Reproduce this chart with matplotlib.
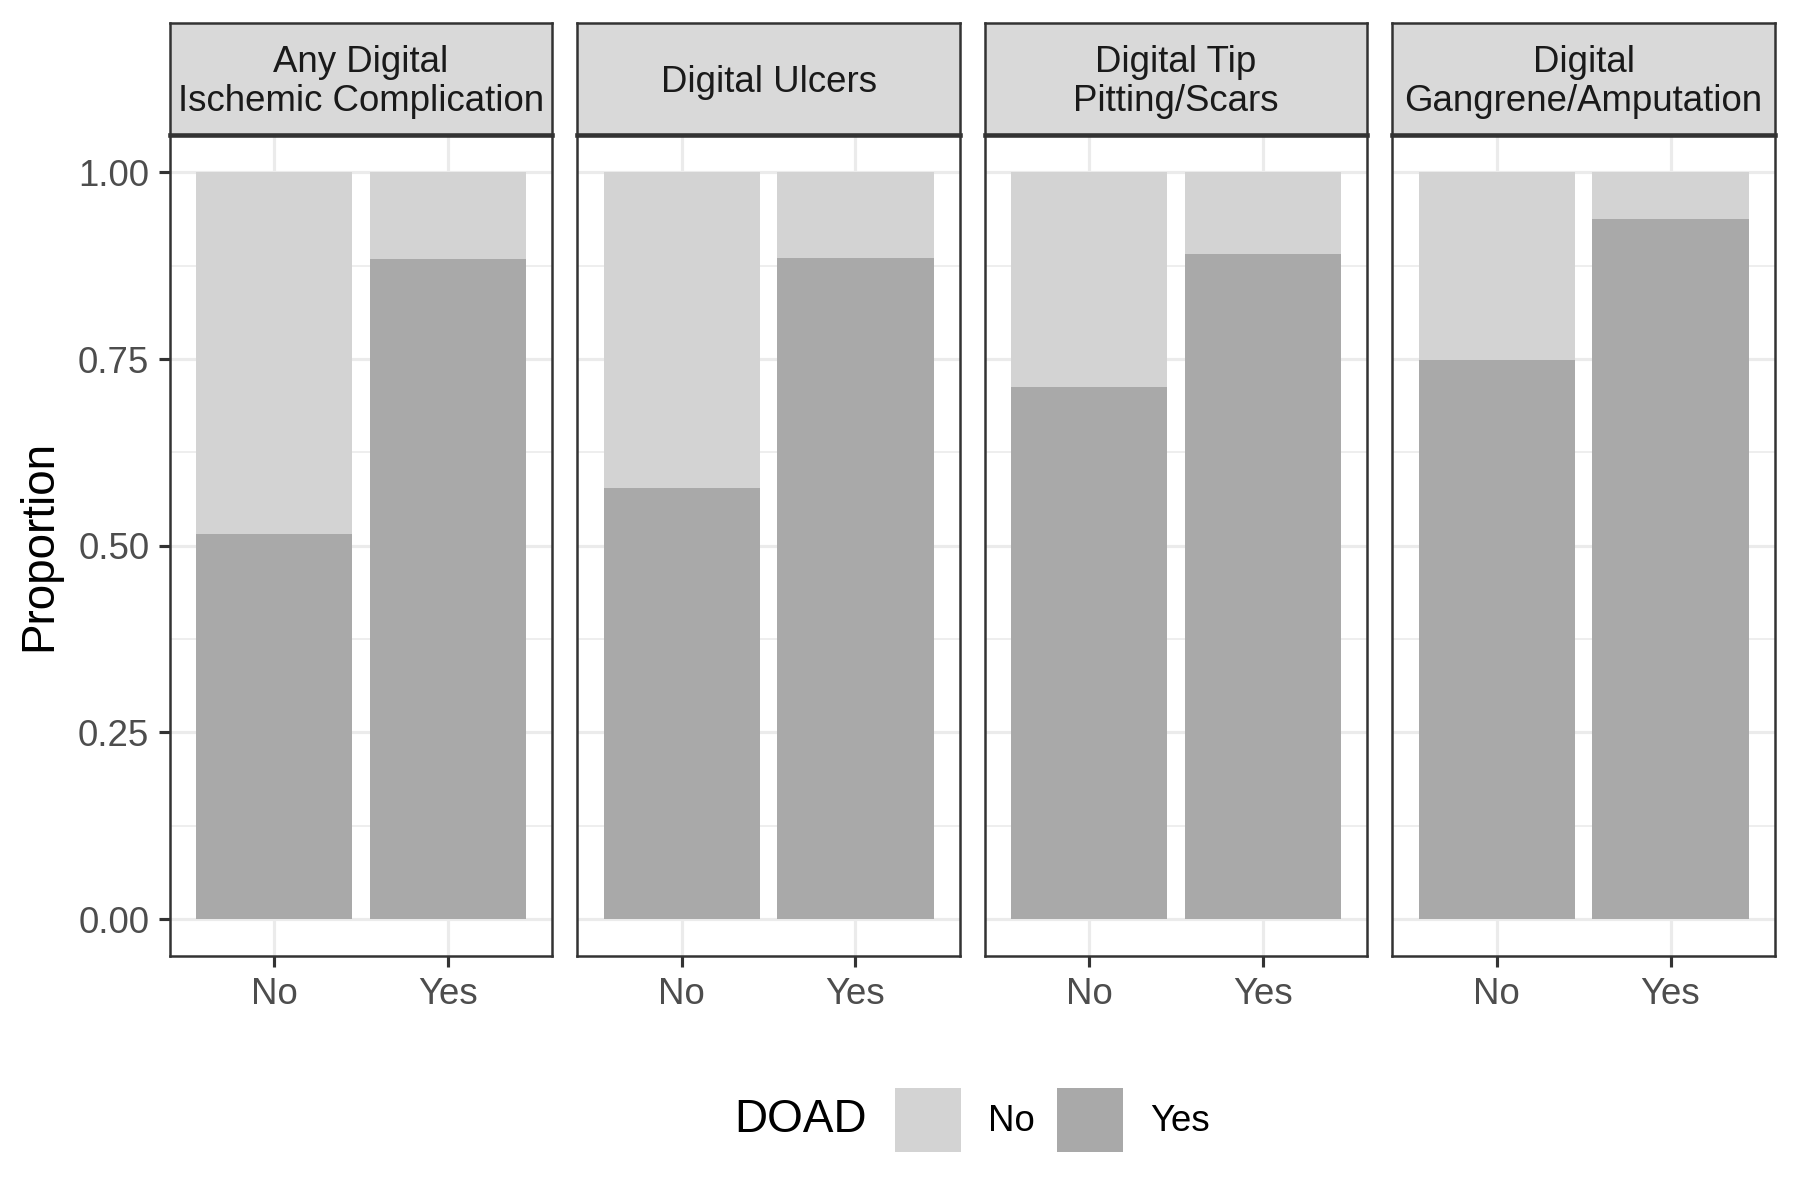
import matplotlib
matplotlib.use("Agg")
import matplotlib.pyplot as plt
from matplotlib.patches import Patch

plt.rcParams["font.family"] = ["Liberation Sans", "DejaVu Sans"]

# facets, x categories and stacked proportions (DOAD = Yes share, remainder = No)
panel_titles = [
    "Any Digital\nIschemic Complication",
    "Digital Ulcers",
    "Digital Tip\nPitting/Scars",
    "Digital\nGangrene/Amputation",
]
x_categories = ["No", "Yes"]
doad_yes = [
    [0.515, 0.884],
    [0.577, 0.885],
    [0.712, 0.891],
    [0.749, 0.938],
]
y_ticks = [0.0, 0.25, 0.5, 0.75, 1.0]
y_tick_labels = ["0.00", "0.25", "0.50", "0.75", "1.00"]
y_minor = [0.125, 0.375, 0.625, 0.875]
legend_labels = ["No", "Yes"]
fill_colors = {"No": "#D3D3D3", "Yes": "#A9A9A9"}

dark = "#333333"
tick_col = "#4D4D4D"
grid_col = "#EBEBEB"

fig = plt.figure(figsize=(6, 4), dpi=300)

lefts = [0.0944, 0.3208, 0.5472, 0.7736]
width = 0.2124
bottom = 0.203
height = 0.6845
strip_h = 0.0935

for i, title in enumerate(panel_titles):
    ax = fig.add_axes([lefts[i], bottom, width, height])
    xs = range(1, len(x_categories) + 1)
    yes_vals = doad_yes[i]
    no_vals = [1 - v for v in yes_vals]
    ax.bar(xs, yes_vals, width=0.9, color=fill_colors["Yes"], zorder=2)
    ax.bar(xs, no_vals, width=0.9, bottom=yes_vals, color=fill_colors["No"], zorder=2)

    ax.set_xlim(0.4, 2.6)
    ax.set_ylim(-0.05, 1.05)
    ax.set_xticks(list(xs))
    ax.set_xticklabels(x_categories)
    ax.set_yticks(y_ticks)
    ax.set_yticks(y_minor, minor=True)
    ax.grid(True, which="major", color=grid_col, linewidth=0.75, zorder=0)
    ax.grid(True, which="minor", axis="y", color=grid_col, linewidth=0.4, zorder=0)
    ax.set_axisbelow(True)
    ax.tick_params(axis="both", which="major", color=dark, width=0.75, length=2.75,
                   labelsize=8.8, labelcolor=tick_col, pad=2.2)
    ax.tick_params(axis="y", which="minor", length=0)
    for s in ax.spines.values():
        s.set_color(dark)
        s.set_linewidth(0.6)
    if i == 0:
        ax.set_yticklabels(y_tick_labels)
    else:
        ax.set_yticklabels([])
        ax.tick_params(axis="y", which="major", length=0)

    # facet strip
    sax = fig.add_axes([lefts[i], bottom + height, width, strip_h])
    sax.set_facecolor("#D9D9D9")
    sax.set_xticks([])
    sax.set_yticks([])
    for s in sax.spines.values():
        s.set_color(dark)
        s.set_linewidth(0.6)
    sax.spines["bottom"].set_linewidth(1.1)
    sax.text(0.5, 0.47, title, ha="center", va="center", fontsize=8.8,
             color="#1A1A1A", linespacing=1.15, transform=sax.transAxes)

fig.text(0.022, bottom + height / 2, "Proportion", rotation=90, ha="center",
         va="center", fontsize=11, color="black")

handles = [Patch(facecolor=fill_colors[k], edgecolor="none") for k in legend_labels]
fig.legend(handles, legend_labels, ncol=2, loc="center left",
           bbox_to_anchor=(0.497, 0.067), frameon=False, fontsize=8.8,
           handlelength=1.8, handleheight=2.3, handletextpad=0.75,
           columnspacing=0.6, borderpad=0, borderaxespad=0)
fig.text(0.4815, 0.067, "DOAD", ha="right", va="center", fontsize=11, color="black")

fig.savefig("out.png", dpi=300)
